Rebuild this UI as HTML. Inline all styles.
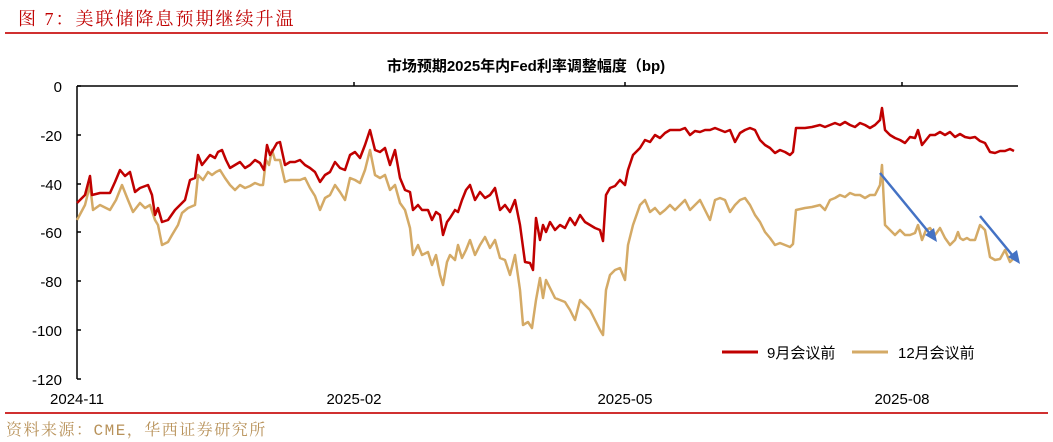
<!DOCTYPE html>
<html><head><meta charset="utf-8"><style>
body{margin:0;width:1053px;height:442px;background:#fff;overflow:hidden;position:relative;font-family:"Liberation Sans","Noto Sans CJK SC",sans-serif}
.t{position:absolute;left:18px;top:5px;font-family:"Liberation Serif","Noto Serif CJK SC",serif;font-size:18px;color:#c00000;letter-spacing:2px}
.s{position:absolute;left:6px;top:417px;font-family:"Liberation Mono","Noto Serif CJK SC",serif;font-size:16px;color:#b8925a;letter-spacing:1.5px}
</style></head><body>
<div class="t">图 7：美联储降息预期继续升温</div>
<div class="s">资料来源：CME，华西证券研究所</div>
<svg width="1053" height="442" style="position:absolute;left:0;top:0">
<line x1="5" y1="33" x2="1048" y2="33" stroke="#d03030" stroke-width="2"/>
<line x1="5" y1="413" x2="1048" y2="413" stroke="#d03030" stroke-width="2"/>
<text x="526" y="71" text-anchor="middle" font-size="15" font-weight="bold" fill="#000">市场预期2025年内Fed利率调整幅度（bp)</text>
<g stroke="#000" stroke-width="1.5" fill="none">
<line x1="77" y1="86" x2="1018" y2="86"/><line x1="77" y1="86" x2="77" y2="379"/>
<line x1="77" y1="86" x2="81" y2="86"/><line x1="77" y1="135" x2="81" y2="135"/><line x1="77" y1="184" x2="81" y2="184"/><line x1="77" y1="232" x2="81" y2="232"/><line x1="77" y1="281" x2="81" y2="281"/><line x1="77" y1="330" x2="81" y2="330"/><line x1="77" y1="379" x2="81" y2="379"/>
<line x1="354" y1="86" x2="354" y2="82"/><line x1="625" y1="86" x2="625" y2="82"/><line x1="902" y1="86" x2="902" y2="82"/>
</g>
<g font-size="15" fill="#000" text-anchor="end">
<text x="62" y="92">0</text><text x="62" y="141">-20</text><text x="62" y="190">-40</text><text x="62" y="238">-60</text><text x="62" y="287">-80</text><text x="62" y="336">-100</text><text x="62" y="385">-120</text>
</g>
<g font-size="15" fill="#000" text-anchor="middle">
<text x="77" y="404">2024-11</text><text x="354" y="404">2025-02</text><text x="625" y="404">2025-05</text><text x="902" y="404">2025-08</text>
</g>
<polyline fill="none" stroke="#d4aa66" stroke-width="2.5" stroke-linejoin="round" points="77,220 85,205 90,185 93,210 100,205 110,210 116,200 122,185 128,200 133,212 140,203 145,208 150,205 155,220 158,225 162,245 168,242 172,235 178,225 182,213 188,208 195,205 198,175 203,180 208,172 212,175 216,172 220,170 225,178 230,185 235,190 240,185 245,188 250,186 255,183 260,185 263,185 266,160 269,165 272,150 275,160 280,160 285,182 290,180 300,180 305,178 310,188 315,196 320,210 325,198 330,195 335,185 340,192 345,200 350,178 355,180 360,183 365,170 370,150 375,175 380,178 385,175 390,190 395,185 400,203 405,210 410,228 413,255 418,245 422,255 428,252 432,265 436,255 440,275 443,285 447,262 450,255 455,260 458,245 462,258 466,250 470,240 475,255 480,245 485,237 490,248 495,240 500,258 505,260 510,275 515,255 520,290 523,325 528,322 532,328 536,300 540,278 543,298 546,280 550,288 555,298 560,300 565,302 570,310 575,320 580,300 585,305 590,310 595,320 600,330 603,335 606,290 610,275 615,270 620,268 625,280 628,245 633,225 640,205 645,200 650,212 655,208 660,214 665,210 670,205 675,210 680,205 685,200 690,210 695,205 700,200 705,210 710,220 715,200 720,198 725,200 730,212 735,205 740,200 745,198 750,205 755,215 760,222 765,232 770,238 775,245 780,243 785,245 790,247 793,244 796,210 805,208 812,207 820,205 825,210 830,200 835,198 840,195 845,197 850,193 855,195 860,195 865,198 870,195 875,195 880,185 882,165 885,225 890,230 895,235 900,230 905,235 910,235 915,233 918,225 922,240 926,230 930,228 935,235 940,228 945,238 950,245 955,240 958,232 960,238 963,240 967,238 970,240 975,240 980,225 985,230 990,257 995,260 1000,259 1005,250 1010,262 1014,258"/>
<polyline fill="none" stroke="#c00000" stroke-width="2.5" stroke-linejoin="round" points="77,203 85,195 90,176 92,195 100,193 110,193 115,182 120,170 125,176 130,172 135,192 140,188 148,185 152,195 155,215 158,208 162,222 168,220 175,210 180,205 185,200 190,180 195,178 198,155 202,165 206,160 210,155 215,158 218,152 222,150 226,160 230,168 235,165 240,162 245,168 250,165 255,160 260,163 264,170 267,145 270,155 273,150 277,143 280,142 285,165 290,162 295,162 300,160 305,165 310,168 315,172 320,182 325,175 330,172 335,162 340,168 345,170 350,155 355,152 360,158 365,145 370,130 375,150 380,152 385,148 390,165 395,150 400,178 405,190 410,192 413,210 418,205 422,210 428,210 432,220 436,212 440,215 443,235 447,222 450,218 455,210 458,212 462,200 466,190 470,185 475,200 480,192 485,198 490,195 495,188 500,210 505,205 510,212 515,200 520,225 525,262 530,263 533,270 536,218 540,240 543,225 546,232 550,222 555,230 560,225 565,228 570,218 575,225 580,215 585,222 590,225 595,228 600,230 603,241 606,195 610,188 615,186 620,180 625,185 628,170 633,155 640,148 645,140 650,142 655,135 660,138 665,133 670,130 675,130 680,130 685,128 690,135 695,131 700,132 705,130 710,130 715,128 720,130 725,132 730,130 735,142 740,133 745,130 750,128 755,130 760,140 765,145 770,148 775,153 780,150 785,152 790,155 793,152 796,128 805,128 812,127 820,125 825,127 830,125 835,123 840,125 845,122 850,125 855,127 860,123 865,125 870,128 875,125 880,120 882,108 885,130 890,135 895,138 900,140 905,143 910,137 915,138 918,130 922,145 926,140 930,135 935,135 940,132 945,135 950,132 955,137 960,134 965,137 970,138 975,137 980,141 985,143 990,152 995,153 1000,151 1005,151 1010,149 1014,151"/>
<g stroke="#4472c4" stroke-width="2.5" fill="#4472c4">
<line x1="880" y1="173" x2="931" y2="235"/><polygon points="937,242 925,235 934,228" stroke="none"/>
<line x1="980" y1="216" x2="1013" y2="256"/><polygon points="1020,264 1008,257 1017,250" stroke="none"/>
</g>
<line x1="722" y1="352" x2="758" y2="352" stroke="#c00000" stroke-width="3"/>
<text x="767" y="358" font-size="15" fill="#000">9月会议前</text>
<line x1="852" y1="352" x2="888" y2="352" stroke="#d4aa66" stroke-width="3"/>
<text x="898" y="358" font-size="15" fill="#000">12月会议前</text>
</svg>
</body></html>
